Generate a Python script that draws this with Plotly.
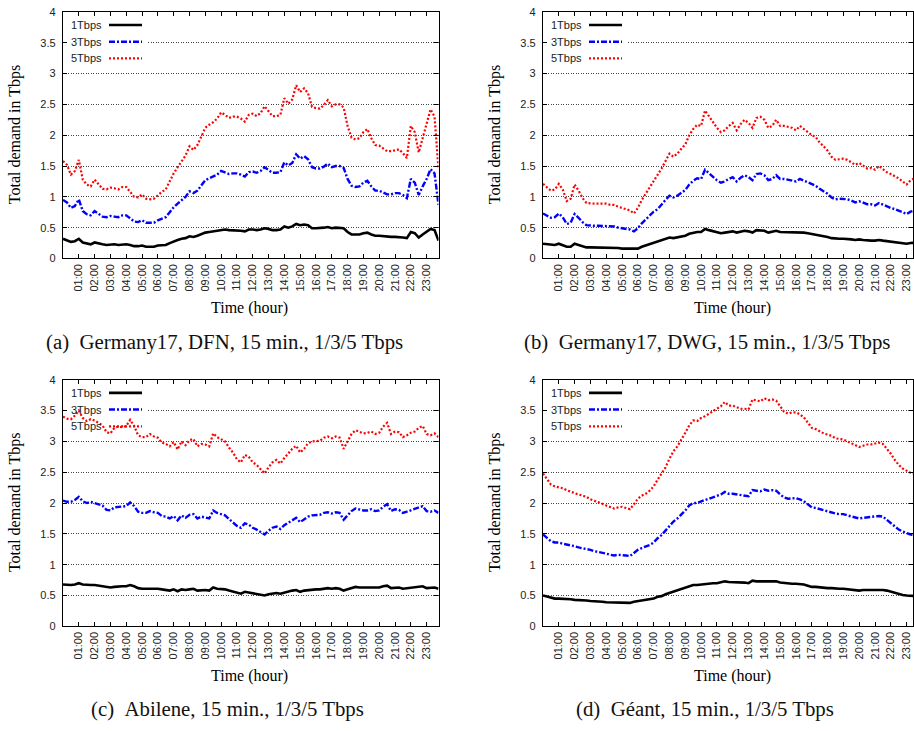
import plotly.graph_objects as go

# ---------------- data ----------------
time_h = [q * 0.25 for q in range(96)]          # 15-minute samples, hours
tick_hours = list(range(1, 24))
tick_labels = ["01:00", "02:00", "03:00", "04:00", "05:00", "06:00", "07:00", "08:00",
               "09:00", "10:00", "11:00", "12:00", "13:00", "14:00", "15:00", "16:00",
               "17:00", "18:00", "19:00", "20:00", "21:00", "22:00", "23:00"]
series_names = ["1Tbps", "3Tbps", "5Tbps"]

# (a) Germany17, DFN
dfn_5 = [1.58, 1.52, 1.36, 1.42, 1.6, 1.28, 1.2, 1.17, 1.28, 1.2, 1.13, 1.12, 1.15, 1.14, 1.12, 1.16,
         1.16, 1.08, 1.0, 0.99, 1.04, 0.97, 0.96, 0.97, 1.03, 1.08, 1.12, 1.25, 1.38, 1.48, 1.58, 1.67,
         1.82, 1.76, 1.84, 1.98, 2.12, 2.17, 2.21, 2.27, 2.37, 2.33, 2.28, 2.3, 2.3, 2.27, 2.22, 2.33,
         2.35, 2.31, 2.36, 2.47, 2.38, 2.31, 2.31, 2.33, 2.6, 2.51, 2.58, 2.81, 2.7, 2.76, 2.68, 2.46,
         2.44, 2.43, 2.49, 2.57, 2.47, 2.5, 2.5, 2.45, 2.15, 1.96, 1.93, 1.95, 2.05, 2.1, 1.95, 1.84,
         1.83, 1.78, 1.74, 1.74, 1.76, 1.77, 1.71, 1.63, 2.15, 2.05, 1.72, 1.95, 2.15, 2.42, 2.3, 1.45]
dfn_3 = [0.95, 0.91, 0.82, 0.85, 0.96, 0.77, 0.72, 0.70, 0.77, 0.72, 0.68, 0.67, 0.69, 0.68, 0.67, 0.70,
         0.70, 0.65, 0.60, 0.59, 0.62, 0.58, 0.58, 0.58, 0.62, 0.65, 0.67, 0.75, 0.83, 0.89, 0.95, 1.00,
         1.09, 1.06, 1.10, 1.19, 1.27, 1.30, 1.33, 1.36, 1.42, 1.40, 1.37, 1.38, 1.38, 1.36, 1.33, 1.40,
         1.41, 1.39, 1.42, 1.48, 1.43, 1.39, 1.39, 1.40, 1.56, 1.51, 1.55, 1.69, 1.62, 1.66, 1.61, 1.48,
         1.46, 1.46, 1.49, 1.54, 1.48, 1.50, 1.50, 1.47, 1.29, 1.18, 1.16, 1.17, 1.23, 1.26, 1.17, 1.10,
         1.10, 1.07, 1.04, 1.04, 1.06, 1.06, 1.03, 0.98, 1.29, 1.23, 1.03, 1.17, 1.29, 1.45, 1.38, 0.87]
dfn_1 = [0.32, 0.30, 0.27, 0.28, 0.32, 0.26, 0.24, 0.23, 0.26, 0.24, 0.23, 0.22, 0.23, 0.23, 0.22, 0.23,
         0.23, 0.22, 0.20, 0.20, 0.21, 0.19, 0.19, 0.19, 0.21, 0.22, 0.22, 0.25, 0.28, 0.30, 0.32, 0.33,
         0.36, 0.35, 0.37, 0.40, 0.42, 0.43, 0.44, 0.45, 0.47, 0.47, 0.46, 0.46, 0.46, 0.45, 0.44, 0.47,
         0.47, 0.46, 0.47, 0.49, 0.48, 0.46, 0.46, 0.47, 0.52, 0.50, 0.52, 0.56, 0.54, 0.55, 0.54, 0.49,
         0.49, 0.49, 0.50, 0.51, 0.49, 0.50, 0.50, 0.49, 0.43, 0.39, 0.39, 0.39, 0.41, 0.42, 0.39, 0.37,
         0.37, 0.36, 0.35, 0.35, 0.35, 0.35, 0.34, 0.33, 0.43, 0.41, 0.34, 0.39, 0.43, 0.48, 0.46, 0.29]

# (b) Germany17, DWG
dwg_5 = [1.21, 1.15, 1.1, 1.12, 1.21, 1.12, 0.93, 0.97, 1.2, 1.1, 0.98, 0.9, 0.89, 0.89, 0.89, 0.89,
         0.89, 0.87, 0.87, 0.84, 0.82, 0.8, 0.78, 0.73, 0.82, 0.95, 1.05, 1.16, 1.26, 1.34, 1.46, 1.58,
         1.7, 1.65, 1.7, 1.78, 1.85, 2.0, 2.1, 2.17, 2.15, 2.4, 2.3, 2.2, 2.12, 2.05, 2.08, 2.15,
         2.2, 2.08, 2.18, 2.25, 2.2, 2.12, 2.28, 2.3, 2.25, 2.12, 2.15, 2.25, 2.15, 2.15, 2.14, 2.12,
         2.08, 2.15, 2.1, 2.05, 2.0, 1.97, 1.88, 1.82, 1.75, 1.65, 1.6, 1.61, 1.62, 1.6, 1.56, 1.52,
         1.55, 1.5, 1.46, 1.47, 1.44, 1.5, 1.45, 1.4, 1.37, 1.34, 1.3, 1.25, 1.2, 1.27, 1.3, 1.28]
dwg_3 = [0.73, 0.69, 0.66, 0.67, 0.73, 0.67, 0.56, 0.58, 0.72, 0.66, 0.59, 0.54, 0.53, 0.53, 0.53, 0.53,
         0.53, 0.52, 0.52, 0.50, 0.49, 0.48, 0.47, 0.44, 0.49, 0.57, 0.63, 0.70, 0.76, 0.80, 0.88, 0.95,
         1.02, 0.99, 1.02, 1.07, 1.11, 1.20, 1.26, 1.30, 1.29, 1.44, 1.38, 1.32, 1.27, 1.23, 1.25, 1.29,
         1.32, 1.25, 1.31, 1.35, 1.32, 1.27, 1.37, 1.38, 1.35, 1.27, 1.29, 1.35, 1.29, 1.29, 1.28, 1.27,
         1.25, 1.29, 1.26, 1.23, 1.20, 1.18, 1.13, 1.09, 1.05, 0.99, 0.96, 0.97, 0.97, 0.96, 0.94, 0.91,
         0.93, 0.90, 0.88, 0.88, 0.86, 0.90, 0.87, 0.84, 0.82, 0.80, 0.78, 0.75, 0.72, 0.76, 0.78, 0.77]
dwg_1 = [0.24, 0.23, 0.22, 0.22, 0.24, 0.22, 0.19, 0.19, 0.24, 0.22, 0.20, 0.18, 0.18, 0.18, 0.18, 0.18,
         0.18, 0.17, 0.17, 0.17, 0.16, 0.16, 0.16, 0.15, 0.16, 0.19, 0.21, 0.23, 0.25, 0.27, 0.29, 0.32,
         0.34, 0.33, 0.34, 0.36, 0.37, 0.40, 0.42, 0.43, 0.43, 0.48, 0.46, 0.44, 0.42, 0.41, 0.42, 0.43,
         0.44, 0.42, 0.44, 0.45, 0.44, 0.42, 0.46, 0.46, 0.45, 0.42, 0.43, 0.45, 0.43, 0.43, 0.43, 0.42,
         0.42, 0.43, 0.42, 0.41, 0.40, 0.39, 0.38, 0.36, 0.35, 0.33, 0.32, 0.32, 0.32, 0.32, 0.31, 0.30,
         0.31, 0.30, 0.29, 0.29, 0.29, 0.30, 0.29, 0.28, 0.27, 0.27, 0.26, 0.25, 0.24, 0.25, 0.26, 0.26]

# (c) Abilene
abi_5 = [3.4, 3.37, 3.36, 3.42, 3.5, 3.38, 3.33, 3.36, 3.34, 3.3, 3.26, 3.15, 3.13, 3.22, 3.24, 3.23,
         3.25, 3.35, 3.25, 3.1, 3.07, 3.07, 3.12, 3.08, 3.06, 2.98, 2.96, 2.92, 2.99, 2.87, 3.0, 2.94,
         3.02, 3.04, 2.92, 2.96, 2.95, 2.92, 3.13, 3.07, 3.03, 3.0, 2.9, 2.82, 2.71, 2.66, 2.78, 2.75,
         2.66, 2.62, 2.55, 2.48, 2.58, 2.66, 2.7, 2.64, 2.73, 2.8, 2.88, 2.93, 2.82, 2.88, 2.97, 3.0,
         3.0, 3.01, 3.06, 3.08, 3.05, 3.08, 3.06, 2.88, 3.0, 3.12, 3.18, 3.15, 3.13, 3.14, 3.16, 3.12,
         3.14, 3.24, 3.3, 3.12, 3.16, 3.15, 3.07, 3.1, 3.14, 3.16, 3.22, 3.25, 3.12, 3.1, 3.13, 3.07]
abi_3 = [2.04, 2.02, 2.02, 2.05, 2.10, 2.03, 2.00, 2.02, 2.00, 1.98, 1.96, 1.89, 1.88, 1.93, 1.94, 1.94,
         1.95, 2.01, 1.95, 1.86, 1.84, 1.84, 1.87, 1.85, 1.84, 1.79, 1.78, 1.75, 1.79, 1.72, 1.80, 1.76,
         1.81, 1.82, 1.75, 1.78, 1.77, 1.75, 1.88, 1.84, 1.82, 1.80, 1.74, 1.69, 1.63, 1.60, 1.67, 1.65,
         1.60, 1.57, 1.53, 1.49, 1.55, 1.60, 1.62, 1.58, 1.64, 1.68, 1.73, 1.76, 1.69, 1.73, 1.78, 1.80,
         1.80, 1.81, 1.84, 1.85, 1.83, 1.85, 1.84, 1.73, 1.80, 1.87, 1.91, 1.89, 1.88, 1.88, 1.90, 1.87,
         1.88, 1.94, 1.98, 1.87, 1.90, 1.89, 1.84, 1.86, 1.88, 1.90, 1.93, 1.95, 1.87, 1.86, 1.88, 1.84]
abi_1 = [0.68, 0.67, 0.67, 0.68, 0.70, 0.68, 0.67, 0.67, 0.67, 0.66, 0.65, 0.63, 0.63, 0.64, 0.65, 0.65,
         0.65, 0.67, 0.65, 0.62, 0.61, 0.61, 0.62, 0.62, 0.61, 0.60, 0.59, 0.58, 0.60, 0.57, 0.60, 0.59,
         0.60, 0.61, 0.58, 0.59, 0.59, 0.58, 0.63, 0.61, 0.61, 0.60, 0.58, 0.56, 0.54, 0.53, 0.56, 0.55,
         0.53, 0.52, 0.51, 0.50, 0.52, 0.53, 0.54, 0.53, 0.55, 0.56, 0.58, 0.59, 0.56, 0.58, 0.59, 0.60,
         0.60, 0.60, 0.61, 0.62, 0.61, 0.62, 0.61, 0.58, 0.60, 0.62, 0.64, 0.63, 0.63, 0.63, 0.63, 0.62,
         0.63, 0.65, 0.66, 0.62, 0.63, 0.63, 0.61, 0.62, 0.63, 0.63, 0.64, 0.65, 0.62, 0.62, 0.63, 0.61]

# (d) Geant
geant_5 = [2.48, 2.38, 2.3, 2.27, 2.26, 2.24, 2.21, 2.18, 2.16, 2.14, 2.12, 2.1, 2.06, 2.04, 2.01, 1.99,
           1.96, 1.93, 1.91, 1.93, 1.94, 1.92, 1.9, 1.98, 2.07, 2.12, 2.15, 2.2, 2.27, 2.38, 2.47, 2.58,
           2.72, 2.84, 2.92, 3.02, 3.14, 3.26, 3.34, 3.33, 3.38, 3.41, 3.45, 3.48, 3.52, 3.57, 3.64, 3.58,
           3.58, 3.56, 3.53, 3.53, 3.52, 3.68, 3.66, 3.65, 3.7, 3.67, 3.68, 3.66, 3.57, 3.48, 3.45, 3.47,
           3.47, 3.44, 3.39, 3.3, 3.22, 3.2, 3.16, 3.13, 3.11, 3.09, 3.05, 3.04, 3.03, 3.0, 2.97, 2.93,
           2.91, 2.93, 2.95, 2.95, 2.96, 2.98, 2.96, 2.88, 2.8, 2.7, 2.62, 2.56, 2.52, 2.49, 2.47, 2.45]
geant_3 = [1.49, 1.43, 1.38, 1.36, 1.36, 1.34, 1.33, 1.31, 1.30, 1.28, 1.27, 1.26, 1.24, 1.22, 1.21, 1.19,
           1.18, 1.16, 1.15, 1.16, 1.16, 1.15, 1.14, 1.19, 1.24, 1.27, 1.29, 1.32, 1.36, 1.43, 1.48, 1.55,
           1.63, 1.70, 1.75, 1.81, 1.88, 1.96, 2.00, 2.00, 2.03, 2.05, 2.07, 2.09, 2.11, 2.14, 2.18, 2.15,
           2.15, 2.14, 2.12, 2.12, 2.11, 2.21, 2.20, 2.19, 2.22, 2.20, 2.21, 2.20, 2.14, 2.09, 2.07, 2.08,
           2.08, 2.06, 2.03, 1.98, 1.93, 1.92, 1.90, 1.88, 1.87, 1.85, 1.83, 1.82, 1.82, 1.80, 1.78, 1.76,
           1.75, 1.76, 1.77, 1.77, 1.78, 1.79, 1.78, 1.73, 1.68, 1.62, 1.57, 1.54, 1.51, 1.49, 1.48, 1.47]
geant_1 = [0.50, 0.48, 0.46, 0.45, 0.45, 0.45, 0.44, 0.44, 0.43, 0.43, 0.42, 0.42, 0.41, 0.41, 0.40, 0.40,
           0.39, 0.39, 0.38, 0.39, 0.39, 0.38, 0.38, 0.40, 0.41, 0.42, 0.43, 0.44, 0.45, 0.48, 0.49, 0.52,
           0.54, 0.57, 0.58, 0.60, 0.63, 0.65, 0.67, 0.67, 0.68, 0.68, 0.69, 0.70, 0.70, 0.71, 0.73, 0.72,
           0.72, 0.71, 0.71, 0.71, 0.70, 0.74, 0.73, 0.73, 0.74, 0.73, 0.74, 0.73, 0.71, 0.70, 0.69, 0.69,
           0.69, 0.69, 0.68, 0.66, 0.64, 0.64, 0.63, 0.63, 0.62, 0.62, 0.61, 0.61, 0.61, 0.60, 0.59, 0.59,
           0.58, 0.59, 0.59, 0.59, 0.59, 0.60, 0.59, 0.58, 0.56, 0.54, 0.52, 0.51, 0.50, 0.50, 0.49, 0.49]

captions = ["(a)\u00a0\u00a0Germany17, DFN, 15 min., 1/3/5 Tbps",
            "(b)\u00a0\u00a0Germany17, DWG, 15 min., 1/3/5 Tbps",
            "(c)\u00a0\u00a0Abilene, 15 min., 1/3/5 Tbps",
            "(d)\u00a0\u00a0G\u00e9ant, 15 min., 1/3/5 Tbps"]
x_title = "Time (hour)"
y_title = "Total demand in Tbps"

# ---------------- layout / style ----------------
W, H = 914, 731
def px(x):
    return x / W
def py(y):
    return 1 - y / H

HOUR_PX = 15.81
# left, top, right, bottom in pixels
boxes = [(63, 6, 438.5, 256.7), (543, 6, 913, 256.7),
         (63, 380, 438.5, 630.7), (543, 380, 913, 630.7)]
caption_pos = [(224, 342), (707, 342), (227, 715), (705, 715)]
xtitle_x = [250, 732, 250, 732]

panel_data = [(dfn_1, dfn_3, dfn_5), (dwg_1, dwg_3, dwg_5),
              (abi_1, abi_3, abi_5), (geant_1, geant_3, geant_5)]

styles = [dict(color="#000000", width=2.6, dash="solid"),
          dict(color="#0000ff", width=2.4, dash="6px,2px,2px,2px"),
          dict(color="#ff0000", width=2.2, dash="2px,2px")]

SANS = "Liberation Sans, Arial, sans-serif"
SERIF = "Liberation Serif, Times New Roman, serif"

fig = go.Figure()
annotations = []
shapes = []
layout_axes = {}

for i, (box, series) in enumerate(zip(boxes, panel_data)):
    n = i + 1
    sfx = "" if n == 1 else str(n)
    left, top, right, bottom = box
    xmax = (right - left) / HOUR_PX
    for name, vals, st in zip(series_names, series, styles):
        fig.add_trace(go.Scatter(
            x=time_h, y=vals, mode="lines", name=name, showlegend=False,
            line=dict(color=st["color"], width=st["width"], dash=st["dash"]),
            xaxis="x" + sfx, yaxis="y" + sfx, hoverinfo="skip"))

    layout_axes["xaxis" + sfx] = dict(
        domain=[px(left), px(right)], anchor="y" + sfx, range=[0, xmax],
        tickmode="array", tickvals=tick_hours, ticktext=tick_labels,
        tickangle=-90, ticks="inside", ticklen=4, tickwidth=1, tickcolor="#000",
        showline=True, linecolor="#000", linewidth=1.3, mirror="ticks",
        showgrid=False, zeroline=False,
        tickfont=dict(family=SANS, size=11, color="#222"))
    layout_axes["yaxis" + sfx] = dict(
        domain=[py(bottom), py(top)], anchor="x" + sfx, range=[0, 4],
        tickmode="array", tickvals=[0, 0.5, 1, 1.5, 2, 2.5, 3, 3.5, 4],
        ticktext=["0", "0.5", "1", "1.5", "2", "2.5", "3", "3.5", "4"],
        ticks="inside", ticklen=4, tickwidth=1, tickcolor="#000",
        ticklabelstandoff=4,
        showline=True, linecolor="#000", linewidth=1.3, mirror="ticks",
        showgrid=True, gridcolor="#444", gridwidth=1, griddash="1px,1.5px",
        zeroline=False, tickfont=dict(family=SANS, size=11, color="#222"))

    # white patch hiding the grid line behind the key (decoration, in axis units)
    shapes.append(dict(type="rect", xref="x" + sfx, yref="y" + sfx,
                       x0=0.05, x1=85 / HOUR_PX, y0=3.15, y1=3.95,
                       fillcolor="white", line=dict(width=0), layer="between"))

    # key (gnuplot style: label, then sample to its right)
    for r, (name, st) in enumerate(zip(series_names, styles)):
        ry = top + 13.3 + r * 17
        annotations.append(dict(text=name, x=px(left + 40.5), y=py(ry), xref="paper", yref="paper",
                                xanchor="right", yanchor="middle", showarrow=False,
                                font=dict(family=SANS, size=11, color="#222")))
        shapes.append(dict(type="line", xref="paper", yref="paper",
                           x0=px(left + 46), x1=px(left + 79), y0=py(ry), y1=py(ry),
                           line=dict(color=st["color"], width=st["width"], dash=st["dash"]),
                           layer="above"))

    # axis titles
    annotations.append(dict(text=x_title, x=px(xtitle_x[i]), y=py(bottom + 50),
                            xref="paper", yref="paper",
                            xanchor="center", yanchor="middle", showarrow=False,
                            font=dict(family=SERIF, size=16, color="#000")))
    annotations.append(dict(text=y_title, x=px(left - 48), y=py((top + bottom) / 2),
                            xref="paper", yref="paper", textangle=-90,
                            xanchor="center", yanchor="middle", showarrow=False,
                            font=dict(family=SERIF, size=16, color="#000")))
    cx, cy = caption_pos[i]
    annotations.append(dict(text=captions[i], x=px(cx), y=py(cy), xref="paper", yref="paper",
                            xanchor="center", yanchor="middle", showarrow=False,
                            font=dict(family=SERIF, size=20.8, color="#111")))

fig.update_layout(
    width=W, height=H, margin=dict(l=0, r=0, t=0, b=0),
    paper_bgcolor="white", plot_bgcolor="white",
    annotations=annotations, shapes=shapes, showlegend=False,
    **layout_axes)

fig.write_html("out.html")
